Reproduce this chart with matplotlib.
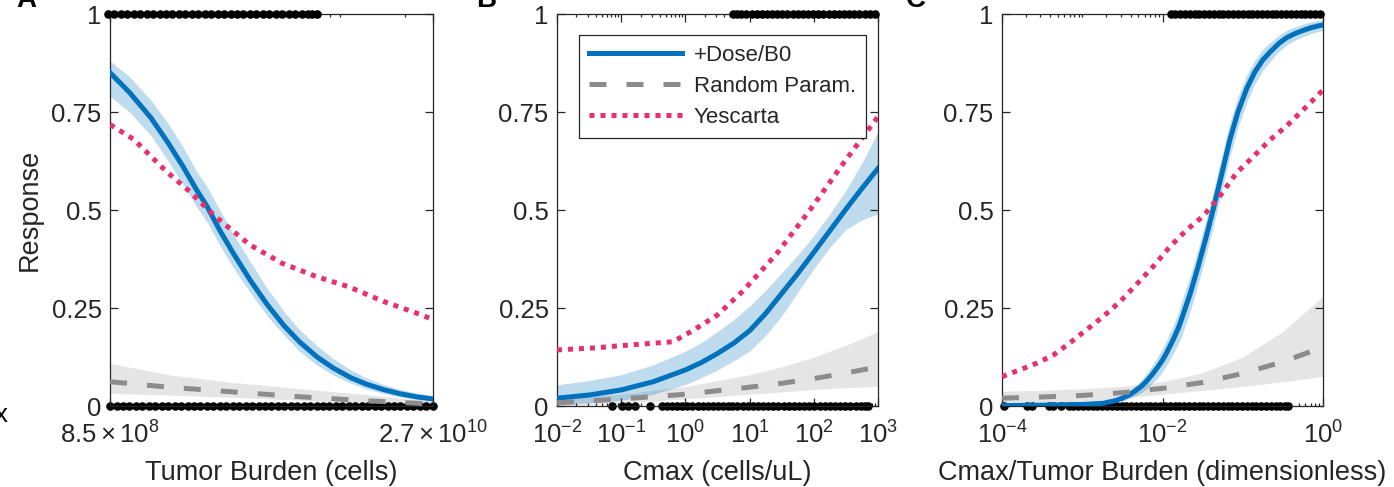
import numpy as np
import matplotlib
matplotlib.use("Agg")
import matplotlib.pyplot as plt
from matplotlib.ticker import FixedLocator, FixedFormatter, LogLocator, NullFormatter

plt.rcParams["font.family"] = ["Liberation Sans", "DejaVu Sans"]
plt.rcParams["mathtext.fontset"] = "custom"
plt.rcParams["mathtext.rm"] = "Liberation Sans"
plt.rcParams["mathtext.it"] = "Liberation Sans:italic"
plt.rcParams["mathtext.bf"] = "Liberation Sans:bold"

# Colors (MATLAB-like)
TEXT = "#262626"
BLUE = "#0072BD"
PINK = "#E8306C"
GRAY = "#8C8C8C"
FS_TICK = 18.5
FS_LABEL = 19.5

# ---------------- Panel A: tumor burden (log10 cells) ----------------
tb_lim = (8.5e8, 2.7e10)
tb_x = [8.93, 9.02, 9.12, 9.20, 9.27, 9.33, 9.38, 9.44, 9.50, 9.58, 9.66,
        9.74, 9.81, 9.89, 9.97, 10.05, 10.12, 10.20, 10.28, 10.36, 10.43]
tb_fit = [0.85, 0.80, 0.735, 0.671, 0.61, 0.553, 0.51, 0.448, 0.392, 0.322, 0.259,
          0.204, 0.164, 0.126, 0.096, 0.072, 0.056, 0.042, 0.031, 0.023, 0.018]
tb_fit_hi = [0.88, 0.84, 0.78, 0.72, 0.66, 0.60, 0.56, 0.50, 0.44, 0.37, 0.30,
             0.24, 0.195, 0.155, 0.12, 0.092, 0.072, 0.055, 0.042, 0.032, 0.026]
tb_fit_lo = [0.79, 0.75, 0.69, 0.625, 0.565, 0.51, 0.47, 0.41, 0.355, 0.29, 0.23,
             0.18, 0.14, 0.105, 0.078, 0.058, 0.044, 0.032, 0.023, 0.016, 0.012]
tb_yes_x = [8.93, 9.04, 9.19, 9.29, 9.42, 9.58, 9.73, 9.89, 10.04, 10.20, 10.35, 10.43]
tb_yes = [0.718, 0.68, 0.599, 0.552, 0.483, 0.411, 0.364, 0.33, 0.304, 0.267, 0.238, 0.221]
tb_rnd_x = [8.93, 9.20, 9.50, 9.80, 10.10, 10.43]
tb_rnd = [0.062, 0.048, 0.036, 0.024, 0.014, 0.005]
tb_rnd_hi = [0.109, 0.08, 0.06, 0.045, 0.03, 0.012]
tb_rnd_lo = [0.032, 0.028, 0.022, 0.015, 0.008, 0.002]
tb_obs1 = [8.92, 8.95, 8.98, 9.01, 9.04, 9.07, 9.10, 9.13, 9.16, 9.19, 9.22, 9.25,
           9.28, 9.31, 9.34, 9.37, 9.40, 9.43, 9.46, 9.49, 9.52, 9.55, 9.58, 9.61,
           9.64, 9.67, 9.70, 9.73, 9.76, 9.79, 9.82, 9.85, 9.87, 9.89]
tb_obs0 = [8.93, 8.96, 8.99, 9.02, 9.05, 9.08, 9.11, 9.14, 9.17, 9.20, 9.23, 9.26,
           9.29, 9.32, 9.35, 9.38, 9.41, 9.44, 9.47, 9.50, 9.53, 9.56, 9.59, 9.62,
           9.65, 9.68, 9.71, 9.74, 9.77, 9.80, 9.83, 9.86, 9.89, 9.92, 9.95, 9.98,
           10.01, 10.04, 10.07, 10.10, 10.13, 10.16, 10.19, 10.22, 10.25, 10.28,
           10.31, 10.34, 10.37, 10.40, 10.43]

# ---------------- Panel B: Cmax (log10 cells/uL) ----------------
cm_lim = (1e-2, 1e3)
cm_x = [-2, -1.5, -1, -0.5, 0, 0.25, 0.5, 0.75, 1, 1.25, 1.5, 1.75, 2, 2.25, 2.5, 2.75, 3]
cm_fit = [0.02, 0.028, 0.041, 0.062, 0.092, 0.111, 0.134, 0.16, 0.192, 0.236, 0.287,
          0.338, 0.392, 0.447, 0.502, 0.555, 0.606]
cm_fit_hi = [0.054, 0.065, 0.08, 0.105, 0.14, 0.162, 0.19, 0.22, 0.255, 0.295, 0.34,
             0.385, 0.435, 0.49, 0.55, 0.62, 0.70]
cm_fit_lo = [0.003, 0.008, 0.015, 0.03, 0.055, 0.072, 0.092, 0.115, 0.14, 0.18, 0.23,
             0.29, 0.35, 0.405, 0.45, 0.475, 0.49]
cm_yes_x = [-2.0, -1.44, -0.92, -0.19, 0.12, 0.49, 0.90, 1.42, 1.94, 2.46, 3.0]
cm_yes = [0.143, 0.148, 0.155, 0.164, 0.193, 0.231, 0.294, 0.388, 0.50, 0.619, 0.738]
cm_rnd_x = [-2, -1, 0, 1, 1.5, 2, 2.5, 3]
cm_rnd = [0.008, 0.018, 0.03, 0.048, 0.058, 0.07, 0.084, 0.10]
cm_rnd_hi = [0.02, 0.03, 0.05, 0.08, 0.10, 0.125, 0.155, 0.19]
cm_rnd_lo = [0.0, 0.008, 0.018, 0.03, 0.036, 0.042, 0.047, 0.05]
cm_obs1 = [0.74, 0.80, 0.86, 0.95, 1.03, 1.11, 1.19, 1.27, 1.35, 1.43, 1.51, 1.59,
           1.67, 1.75, 1.83, 1.91, 1.99, 2.07, 2.15, 2.23, 2.31, 2.39, 2.47, 2.55,
           2.63, 2.71, 2.79, 2.87, 2.95]
cm_obs0 = [-1.15, -0.99, -0.89, -0.79, -0.55, -0.37, -0.29, -0.21, -0.13, -0.05,
           0.03, 0.11, 0.19, 0.27, 0.35, 0.43, 0.51, 0.59, 0.66, 0.72, 0.81, 0.89,
           0.97, 1.05, 1.13, 1.21, 1.29, 1.37, 1.45, 1.53, 1.61, 1.69, 1.77, 1.85,
           1.93, 2.01, 2.09, 2.17, 2.25, 2.33, 2.41, 2.49, 2.57, 2.65, 2.73, 2.79, 2.85]

# ---------------- Panel C: Cmax / tumor burden (log10) ----------------
rt_lim = (1e-4, 1e0)
rt_x = [-4, -3.5, -3, -2.74, -2.6, -2.5, -2.4, -2.33, -2.27, -2.2, -2.13, -2.06,
        -2.0, -1.95, -1.87, -1.8, -1.75, -1.65, -1.56, -1.46, -1.37, -1.27, -1.16,
        -1.06, -0.95, -0.85, -0.75, -0.65, -0.55, -0.45, -0.35, -0.25, -0.15, -0.05, 0]
rt_fit = [0.001, 0.002, 0.004, 0.007, 0.013, 0.02, 0.03, 0.04, 0.049, 0.063, 0.08,
          0.099, 0.117, 0.135, 0.168, 0.2, 0.229, 0.29, 0.353, 0.428, 0.5, 0.585,
          0.68, 0.75, 0.81, 0.852, 0.883, 0.905, 0.925, 0.94, 0.95, 0.958, 0.965,
          0.97, 0.972]
rt_fit_hi = [0.003, 0.004, 0.006, 0.010, 0.018, 0.028, 0.040, 0.053, 0.065, 0.083,
             0.103, 0.126, 0.147, 0.167, 0.204, 0.24, 0.274, 0.335, 0.398, 0.473,
             0.545, 0.63, 0.723, 0.79, 0.845, 0.882, 0.91, 0.929, 0.946, 0.959,
             0.967, 0.974, 0.98, 0.984, 0.986]
rt_fit_lo = [0.0, 0.0, 0.002, 0.004, 0.008, 0.012, 0.02, 0.027, 0.033, 0.043, 0.057,
             0.072, 0.087, 0.103, 0.132, 0.16, 0.184, 0.245, 0.308, 0.383, 0.455,
             0.54, 0.637, 0.71, 0.775, 0.822, 0.856, 0.881, 0.904, 0.921, 0.933,
             0.942, 0.95, 0.956, 0.958]
rt_yes_x = [-4.0, -3.78, -3.57, -3.36, -3.16, -2.95, -2.74, -2.53, -2.33, -2.12,
            -1.91, -1.70, -1.50, -1.29, -1.08, -0.87, -0.66, -0.46, -0.25, 0.0]
rt_yes = [0.075, 0.092, 0.109, 0.13, 0.16, 0.194, 0.228, 0.266, 0.309, 0.355,
          0.406, 0.449, 0.483, 0.534, 0.594, 0.636, 0.679, 0.713, 0.755, 0.806]
rt_rnd_x = [-4, -3.5, -3, -2.5, -2, -1.5, -1, -0.5, 0]
rt_rnd = [0.02, 0.023, 0.027, 0.034, 0.045, 0.06, 0.083, 0.113, 0.15]
rt_rnd_hi = [0.038, 0.04, 0.044, 0.05, 0.062, 0.085, 0.125, 0.19, 0.28]
rt_rnd_lo = [0.002, 0.006, 0.012, 0.02, 0.03, 0.04, 0.05, 0.062, 0.075]
rt_obs1 = [-1.90, -1.84, -1.78, -1.72, -1.66, -1.60, -1.54, -1.48, -1.42, -1.36,
           -1.30, -1.24, -1.18, -1.12, -1.06, -1.00, -0.94, -0.88, -0.82, -0.76,
           -0.70, -0.64, -0.58, -0.52, -0.46, -0.40, -0.34, -0.28, -0.22, -0.16,
           -0.10, -0.04]
rt_obs0 = [-3.98, -3.69, -3.63, -3.42, -3.36, -3.26, -3.17, -3.11, -3.05, -2.99,
           -2.93, -2.87, -2.81, -2.75, -2.69, -2.63, -2.57, -2.51, -2.45, -2.39,
           -2.33, -2.27, -2.21, -2.15, -2.09, -2.03, -1.97, -1.91, -1.85, -1.79,
           -1.73, -1.67, -1.61, -1.55, -1.49, -1.43, -1.37, -1.31, -1.25, -1.19,
           -1.13, -1.07, -1.01, -0.95, -0.89, -0.83, -0.77, -0.71, -0.65, -0.59,
           -0.53, -0.47, -0.43]

# figure pixel geometry (1394 x 487)
W, H = 1394, 487
AX_BOTTOM, AX_TOP = 406, 14


def px_axes(left, right):
    return [left / W, 1 - AX_BOTTOM / H, (right - left) / W, (AX_BOTTOM - AX_TOP) / H]


def draw_panel(ax, lim, x, fit, hi, lo, yes_x, yes, rnd_x, rnd, rnd_hi, rnd_lo, obs0, obs1):
    """Draw bands, curves and the 0/1 observations on a log x axis."""
    lx = lambda v: np.power(10.0, v)
    ax.fill_between(lx(rnd_x), rnd_lo, rnd_hi, color="#808080", alpha=0.2, lw=0, zorder=1)
    ax.fill_between(lx(x), lo, hi, color=BLUE, alpha=0.25, lw=0, zorder=1)
    ax.plot(lx(x), fit, color=BLUE, lw=3.6, zorder=3, label="+Dose/B0")
    ax.plot(lx(rnd_x), rnd, color=GRAY, lw=3.6, linestyle=(0, (3.4, 4.0)),
            zorder=3, label="Random Param.")
    ax.plot(lx(yes_x), yes, color=PINK, lw=3.6, linestyle=(0, (1.0, 1.2)),
            zorder=3, label="Yescarta")
    ax.scatter(lx(obs1), np.ones(len(obs1)), s=38, color="black", lw=0,
               clip_on=False, zorder=5)
    ax.scatter(lx(obs0), np.zeros(len(obs0)), s=38, color="black", lw=0,
               clip_on=False, zorder=2.5)
    ax.set_xscale("log")
    ax.set_xlim(*lim)


def style_axes(ax, xlabel):
    ax.set_ylim(0, 1)
    ax.set_yticks([0, 0.25, 0.5, 0.75, 1])
    ax.set_yticklabels(["0", "0.25", "0.5", "0.75", "1"])
    ax.tick_params(which="both", direction="in", top=True, right=True,
                   colors=TEXT, labelsize=FS_TICK, width=0.9)
    ax.tick_params(which="major", length=5.5, pad=6)
    ax.tick_params(which="minor", length=2.5)
    ax.tick_params(axis="x", which="major", pad=11)
    for s in ax.spines.values():
        s.set_color(TEXT)
        s.set_linewidth(0.9)
    ax.set_xlabel(xlabel, fontsize=FS_LABEL, color=TEXT)
    ax.xaxis.set_label_coords(0.5, -0.138)
    ax.xaxis.label.set_va("top")


def main():
    fig = plt.figure(figsize=(W / 100, H / 100), dpi=100)

    ax1 = fig.add_axes(px_axes(110, 433))
    draw_panel(ax1, tb_lim, tb_x, tb_fit, tb_fit_hi, tb_fit_lo, tb_yes_x, tb_yes,
               tb_rnd_x, tb_rnd, tb_rnd_hi, tb_rnd_lo, tb_obs0, tb_obs1)
    style_axes(ax1, "Tumor Burden (cells)")
    ax1.xaxis.set_major_locator(FixedLocator(list(tb_lim)))
    ax1.xaxis.set_major_formatter(FixedFormatter([r"$8.5\times10^{8}$", r"$2.7\times10^{10}$"]))
    ax1.xaxis.set_minor_locator(LogLocator(base=10, subs=np.arange(1, 10)))
    ax1.xaxis.set_minor_formatter(NullFormatter())
    ax1.set_ylabel("Response", fontsize=FS_LABEL, color=TEXT)
    ax1.yaxis.set_label_coords(-0.207, 0.5)

    ax2 = fig.add_axes(px_axes(557, 878))
    draw_panel(ax2, cm_lim, cm_x, cm_fit, cm_fit_hi, cm_fit_lo, cm_yes_x, cm_yes,
               cm_rnd_x, cm_rnd, cm_rnd_hi, cm_rnd_lo, cm_obs0, cm_obs1)
    style_axes(ax2, "Cmax (cells/uL)")
    ax2.xaxis.set_major_locator(FixedLocator([1e-2, 1e-1, 1e0, 1e1, 1e2, 1e3]))
    ax2.xaxis.set_minor_locator(LogLocator(base=10, subs=np.arange(2, 10)))
    ax2.xaxis.set_minor_formatter(NullFormatter())
    leg = ax2.legend(loc="upper left", bbox_to_anchor=(0.069, 0.946), borderaxespad=0,
                     fontsize=16, handlelength=4.2, fancybox=False,
                     edgecolor=TEXT, framealpha=1, borderpad=0.45, labelspacing=0.45,
                     handletextpad=0.5)
    leg.get_frame().set_linewidth(0.9)
    for t in leg.get_texts():
        t.set_color(TEXT)

    ax3 = fig.add_axes(px_axes(1002, 1323))
    draw_panel(ax3, rt_lim, rt_x, rt_fit, rt_fit_hi, rt_fit_lo, rt_yes_x, rt_yes,
               rt_rnd_x, rt_rnd, rt_rnd_hi, rt_rnd_lo, rt_obs0, rt_obs1)
    style_axes(ax3, "Cmax/Tumor Burden (dimensionless)")
    ax3.xaxis.set_major_locator(FixedLocator([1e-4, 1e-2, 1e0]))
    ax3.xaxis.set_minor_locator(LogLocator(base=10, subs=np.arange(1, 10)))
    ax3.xaxis.set_minor_formatter(NullFormatter())

    # cropped panel letters and stray text at the edges of the original figure
    for xp, letter in [(26, "A"), (486, "B"), (916, "C")]:
        fig.text(xp / W, 1 - 7 / H, letter, fontsize=20, fontweight="bold",
                 ha="center", va="baseline", color="black")
    fig.text(8 / W, 1 - 422 / H, "x", fontsize=FS_TICK, ha="right", va="baseline",
             color="black")

    fig.savefig("out.png", dpi=100)


if __name__ == "__main__":
    main()
